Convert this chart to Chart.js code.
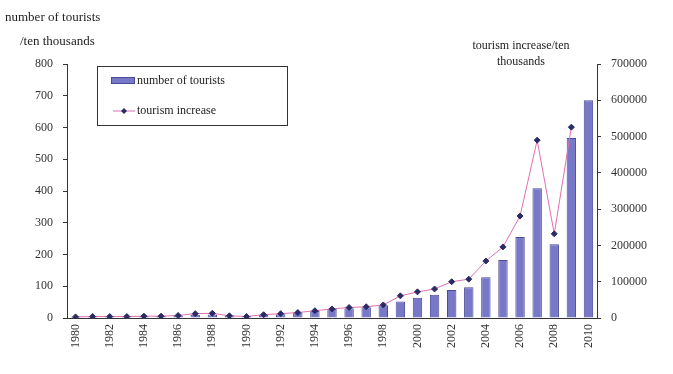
<!DOCTYPE html>
<html>
<head>
<meta charset="utf-8">
<script src="https://cdn.jsdelivr.net/npm/chart.js@4"></script>
<style>
  html, body { margin: 0; padding: 0; background: #fff; }
  #wrap { width: 673px; height: 374px; }
</style>
</head>
<body>
<div id="wrap"><canvas id="tourChart" width="673" height="374"></canvas></div>
<script>
// Years 1980 - 2010
var years = ['1980','1981','1982','1983','1984','1985','1986','1987','1988','1989',
             '1990','1991','1992','1993','1994','1995','1996','1997','1998','1999',
             '2000','2001','2002','2003','2004','2005','2006','2007','2008','2009','2010'];

// number of tourists, ten thousands
var tourists = [4, 5, 5, 5, 6, 6, 7, 10, 11, 8,
                7, 10, 12, 17, 22, 28, 31, 34, 40, 52,
                64, 73, 88, 97, 128, 183, 255, 409, 232, 567, 686];

// yearly increase, ten thousands
var increase = [3000, 4000, 4000, 4000, 5000, 5000, 7000, 12000, 13000, 6000,
                4000, 9000, 12000, 15000, 20000, 25000, 29000, 31000, 36000, 61000,
                72000, 80000, 100000, 107000, 157000, 196000, 281000, 490000, 232000, 526000, null];

var leftTicks = [0, 100, 200, 300, 400, 500, 600, 700, 800];
var rightTicks = [0, 100000, 200000, 300000, 400000, 500000, 600000, 700000];

var FONT = '"Liberation Serif", "DejaVu Serif", serif';
var barColor = '#7878c8';
var barEdge = '#4a4a98';
var lineColor = '#e070b0';
var markColor = '#2a2a66';

// axis titles and the boxed legend drawn straight onto the canvas
var extras = {
    id: 'extras',
    afterDraw: function(chart) {
        var ctx = chart.ctx;
        ctx.save();
        ctx.fillStyle = '#222';
        ctx.font = '13px ' + FONT;
        ctx.textBaseline = 'middle';
        ctx.textAlign = 'left';
        ctx.fillText('number of tourists', 5, 18);
        ctx.fillText('/ten thousands', 20, 42);
        ctx.textAlign = 'center';
        ctx.font = '12px ' + FONT;
        ctx.fillText('tourism increase/ten', 521, 46);
        ctx.fillText('thousands', 521, 62);

        // legend
        var lx = 97, ly = 66, lw = 190, lh = 59;
        ctx.strokeStyle = '#333';
        ctx.lineWidth = 1;
        ctx.strokeRect(lx + 0.5, ly + 0.5, lw, lh);
        ctx.textAlign = 'left';
        ctx.fillStyle = barColor;
        ctx.fillRect(lx + 14, ly + 11, 24, 7);
        ctx.strokeStyle = barEdge;
        ctx.strokeRect(lx + 14.5, ly + 11.5, 23, 6);
        ctx.fillStyle = '#222';
        ctx.fillText('number of tourists', lx + 40, ly + 15);
        ctx.strokeStyle = lineColor;
        ctx.beginPath();
        ctx.moveTo(lx + 16, ly + 45);
        ctx.lineTo(lx + 38, ly + 45);
        ctx.stroke();
        ctx.fillStyle = markColor;
        ctx.beginPath();
        ctx.moveTo(lx + 27, ly + 42);
        ctx.lineTo(lx + 30, ly + 45);
        ctx.lineTo(lx + 27, ly + 48);
        ctx.lineTo(lx + 24, ly + 45);
        ctx.closePath();
        ctx.fill();
        ctx.fillStyle = '#222';
        ctx.fillText('tourism increase', lx + 40, ly + 45);
        ctx.restore();
    }
};

var ctx = document.getElementById('tourChart').getContext('2d');
var tourChart = new Chart(ctx, {
    data: {
        labels: years,
        datasets: [{
            type: 'line',
            label: 'tourism increase',
            data: increase,
            yAxisID: 'y1',
            borderColor: lineColor,
            borderWidth: 1,
            pointStyle: 'rectRot',
            pointRadius: 3,
            pointBackgroundColor: markColor,
            pointBorderColor: markColor,
            tension: 0,
            order: 0
        }, {
            type: 'bar',
            label: 'number of tourists',
            data: tourists,
            yAxisID: 'y',
            backgroundColor: barColor,
            borderColor: barEdge,
            borderWidth: 1,
            barPercentage: 0.55,
            categoryPercentage: 1,
            order: 1
        }]
    },
    options: {
        responsive: false,
        animation: false,
        layout: { padding: { top: 64, left: 0, right: 0, bottom: 0 } },
        plugins: {
            legend: { display: false },
            tooltip: { enabled: false }
        },
        scales: {
            x: {
                grid: { display: false, drawTicks: false },
                border: { color: '#333' },
                afterFit: function(s) { s.height = 56; },
                ticks: {
                    autoSkip: false,
                    maxRotation: 90,
                    minRotation: 90,
                    padding: 6,
                    color: '#333',
                    font: { family: FONT, size: 12 },
                    callback: function(v, i) { return i % 2 === 0 ? years[i] : ''; }
                }
            },
            y: {
                position: 'left',
                min: 0,
                max: 800,
                afterFit: function(s) { s.width = 67; },
                afterBuildTicks: function(s) { s.ticks = leftTicks.map(function(v) { return { value: v }; }); },
                grid: { drawOnChartArea: false, tickLength: 4, color: '#333' },
                border: { color: '#333' },
                ticks: { padding: 10, color: '#333', font: { family: FONT, size: 12 } }
            },
            y1: {
                position: 'right',
                min: 0,
                max: 700000,
                afterFit: function(s) { s.width = 76; },
                afterBuildTicks: function(s) { s.ticks = rightTicks.map(function(v) { return { value: v }; }); },
                grid: { drawOnChartArea: false, tickLength: 4, color: '#333' },
                border: { color: '#333' },
                ticks: {
                    padding: 10,
                    color: '#333',
                    font: { family: FONT, size: 12 },
                    callback: function(v) { return String(v); }
                }
            }
        }
    },
    plugins: [extras]
});
</script>
</body>
</html>
